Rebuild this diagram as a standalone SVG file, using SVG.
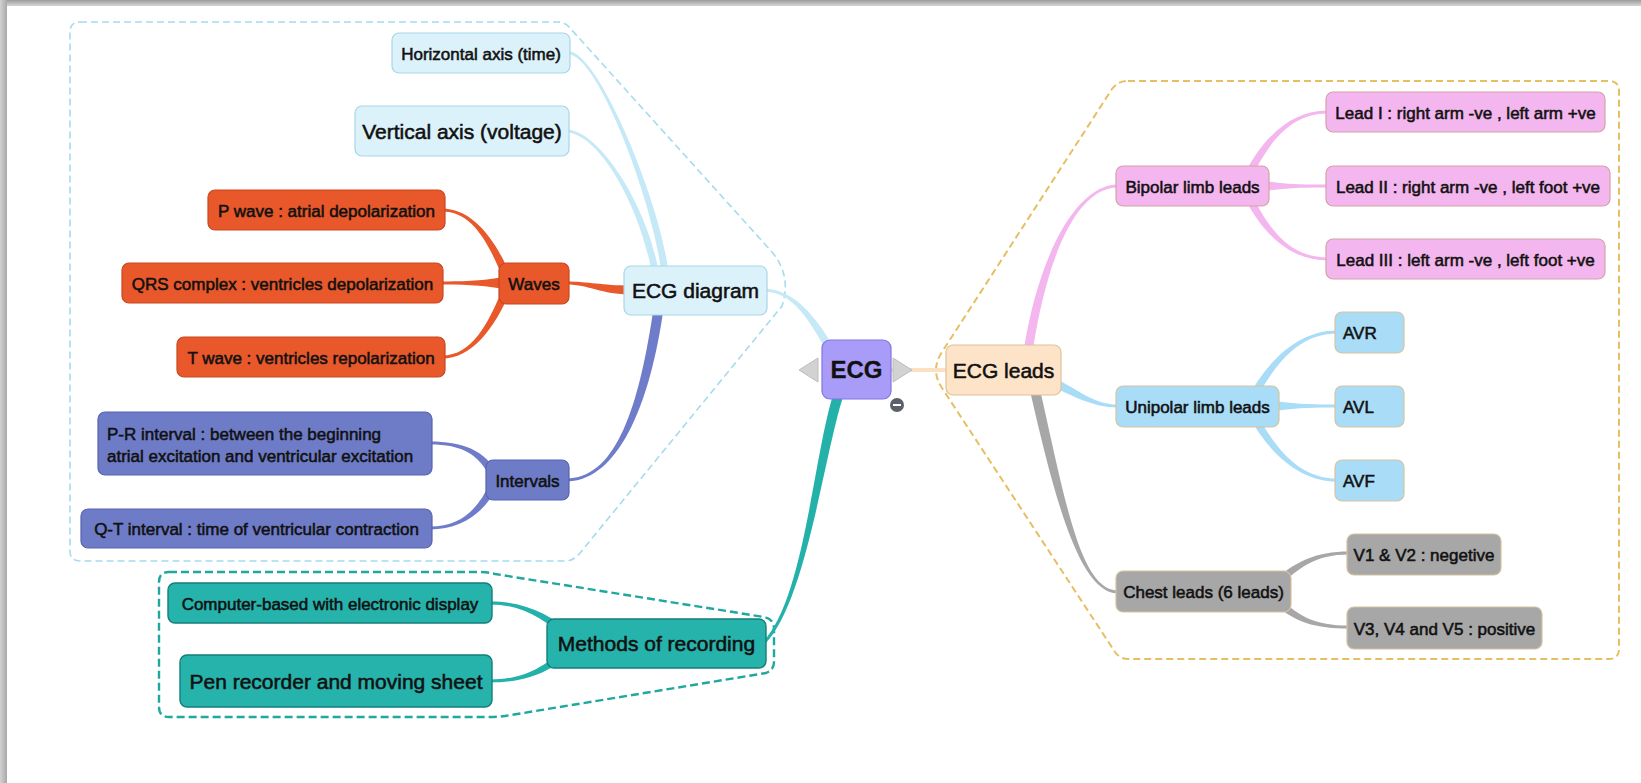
<svg xmlns="http://www.w3.org/2000/svg" width="1641" height="783" viewBox="0 0 1641 783">
<defs>
<linearGradient id="gTop" x1="0" y1="0" x2="0" y2="1"><stop offset="0" stop-color="#9c9c9c"/><stop offset="1" stop-color="#d6d6d6"/></linearGradient>
<linearGradient id="gLeft" x1="0" y1="0" x2="1" y2="0"><stop offset="0" stop-color="#d2d2d2"/><stop offset="1" stop-color="#a8a8a8"/></linearGradient>
<style>
text{font-family:"Liberation Sans",Arial,Helvetica,sans-serif;fill:#111111;stroke:#111111;stroke-width:0.55px}
.s{font-size:17px;text-anchor:middle}
.sl{font-size:17px;text-anchor:start}
.m{font-size:21px;text-anchor:middle}
.b{font-size:24px;font-weight:bold;text-anchor:middle;stroke-width:0.3px}
.lb{fill:#dcf2fa;stroke:#a6d6e8;stroke-width:1.2}
.or{fill:#e8582a;stroke:#c94620;stroke-width:1.2}
.in{fill:#6e7cc8;stroke:#5763b0;stroke-width:1.2}
.te{fill:#26b3ab;stroke:#137f79;stroke-width:1.4}
.ec{fill:#a99cf9;stroke:#8174e3;stroke-width:1.2}
.pe{fill:#fde4c9;stroke:#e0c29c;stroke-width:1.2}
.pk{fill:#f4b6ee;stroke:#d6a2a6;stroke-width:1.2}
.bl{fill:#a8dcf7;stroke:#d6c49f;stroke-width:1.2}
.gr{fill:#a7a7a7;stroke:#d4c19d;stroke-width:1.2}
.dash{fill:none}
</style>
</defs>
<rect x="0" y="0" width="1641" height="783" fill="#ffffff"/>
<rect x="0" y="0" width="1641" height="6" fill="url(#gTop)"/>
<rect x="0" y="0" width="7" height="783" fill="url(#gLeft)"/>

<g id="groups">
<path class="dash" d="M 80,22 L 558,22 Q 565,22 570,28 L 772,252 Q 792,276 782,306 L 580,553 Q 574,561 565,561 L 80,561 Q 70,561 70,551 L 70,32 Q 70,22 80,22 Z" stroke="#a5dbee" stroke-width="1.6" stroke-dasharray="7 4"/>
<path class="dash" d="M 169,572 L 480,572 Q 488,572 495,574 L 764,617 Q 774,619 774,629 L 774,662 Q 774,670 766,673 L 505,716 Q 498,717 490,717 L 169,717 Q 159,717 159,707 L 159,582 Q 159,572 169,572 Z" stroke="#1ea89e" stroke-width="2.4" stroke-dasharray="8 4"/>
<path class="dash" d="M 1128,81 L 1609,81 Q 1619,81 1619,91 L 1619,649 Q 1619,659 1609,659 L 1128,659 Q 1120,659 1115,652 L 942,388 Q 930,370 942,352 L 1112,89 Q 1118,81 1128,81 Z" stroke="#e6bf62" stroke-width="2" stroke-dasharray="7 4"/>
</g>

<g id="connectors">
<path fill="#c6e9f7" d="M 667.5,265.5 C 658.5,199.5 600.2,56.5 570.2,51.5 L 569.8,54.5 C 599.8,59.5 651.5,200.5 660.5,266.5 Z"/>
<path fill="#c6e9f7" d="M 657.4,265.3 C 645.4,204.3 600.1,131.5 567.1,129.5 L 566.9,132.5 C 599.9,134.5 638.6,205.7 650.6,266.7 Z"/>
<path fill="#c6e9f7" d="M 835.5,350 C 815.5,316 795.1,290.5 765.1,288.5 L 764.9,291.5 C 794.9,293.5 808.6,320 828.6,354 Z"/>
<path fill="#e8582a" d="M 632,285.5 C 600,285.5 590,281.5 566,281.5 L 566,284.5 C 590,284.5 600,294.5 632,294.5 Z"/>
<path fill="#6f7cc9" d="M 653.05,311.27 C 637.05,419.27 612,478.5 566,478.5 L 566,481.5 C 612,481.5 646.95,420.73 662.95,312.73 Z"/>
<path fill="#e8582a" d="M 511.7,278.5 C 495.7,238.5 472,208.5 442,208.5 L 442,211.5 C 472,211.5 488.3,241.5 504.3,281.5 Z"/>
<path fill="#e8582a" d="M 505,277 C 480,281 460,281.5 440,281.5 L 440,284.5 C 460,284.5 480,285 505,289 Z"/>
<path fill="#e8582a" d="M 504.3,284.5 C 488.3,324.5 472,355.5 442,355.5 L 442,358.5 C 472,358.5 495.7,327.5 511.7,287.5 Z"/>
<path fill="#6f7cc9" d="M 497.6,474.2 C 485.6,450.2 462,441.5 430,441.5 L 430,444.5 C 462,444.5 478.4,453.8 490.4,477.8 Z"/>
<path fill="#6f7cc9" d="M 490.4,482.3 C 478.4,508.3 462,526.5 430,526.5 L 430,529.5 C 462,529.5 485.6,511.7 497.6,485.7 Z"/>
<path fill="#23b1aa" d="M 833.2,394.5 C 813.2,458.5 803.9,599 762.9,642 L 765.1,644 C 806.1,601 822.8,461.5 842.8,397.5 Z"/>
<path fill="#23b1aa" d="M 577.6,636.9 C 547.6,611.9 522,601.5 490,601.5 L 490,604.5 C 522,604.5 542.4,618.1 572.4,643.1 Z"/>
<path fill="#23b1aa" d="M 572.4,643 C 542.4,669 522,679.5 490,679.5 L 490,682.5 C 522,682.5 547.6,675 577.6,649 Z"/>
<path fill="#fce0c2" d="M 891,368 L 947,368 L 947,372 L 891,372 Z"/>
<path fill="#f4b6ee" d="M 1032.4,352.7 C 1046.4,260.7 1075,187.5 1118,187.5 L 1118,184.5 C 1075,184.5 1037.6,259.3 1023.6,351.3 Z"/>
<path fill="#a8dcf7" d="M 1043.1,382.1 C 1073.1,396.1 1092,407.5 1118,407.5 L 1118,404.5 C 1092,404.5 1076.9,387.9 1046.9,373.9 Z"/>
<path fill="#a7a7a7" d="M 1030.1,391.1 C 1055.1,501.1 1080,593.5 1118,593.5 L 1118,590.5 C 1080,590.5 1064.9,498.9 1039.9,388.9 Z"/>
<path fill="#f4b6ee" d="M 1248.6,183.7 C 1268.6,141.7 1290,113.5 1328,113.5 L 1328,110.5 C 1290,110.5 1261.4,138.3 1241.4,180.3 Z"/>
<path fill="#f4b6ee" d="M 1265,181 C 1290,184.5 1305,184.5 1328,184.5 L 1328,187.5 C 1305,187.5 1290,187.5 1265,191 Z"/>
<path fill="#f4b6ee" d="M 1241.4,191.7 C 1261.4,233.7 1290,260.5 1328,260.5 L 1328,257.5 C 1290,257.5 1268.6,230.3 1248.6,188.3 Z"/>
<path fill="#a8dcf7" d="M 1253.5,403.9 C 1275.5,361.9 1300,333.5 1337,333.5 L 1337,330.5 C 1300,330.5 1268.5,358.1 1246.5,400.1 Z"/>
<path fill="#a8dcf7" d="M 1275,401 C 1300,404.5 1315,404.5 1337,404.5 L 1337,407.5 C 1315,407.5 1300,407.5 1275,411 Z"/>
<path fill="#a8dcf7" d="M 1246.5,411.9 C 1268.5,453.9 1300,481.5 1337,481.5 L 1337,478.5 C 1300,478.5 1275.5,450.1 1253.5,408.1 Z"/>
<path fill="#a7a7a7" d="M 1272.8,592.8 C 1297.8,567.8 1315,554.5 1349,554.5 L 1349,551.5 C 1315,551.5 1292.2,562.2 1267.2,587.2 Z"/>
<path fill="#a7a7a7" d="M 1267.1,596.8 C 1292.1,622.8 1315,628.5 1349,628.5 L 1349,625.5 C 1315,625.5 1297.9,617.2 1272.9,591.2 Z"/>
</g>

<g id="n-ha"><rect class="lb" x="392" y="33" width="178" height="40" rx="7"/><text class="s" x="481" y="59.5">Horizontal axis (time)</text></g>
<g id="n-va"><rect class="lb" x="355" y="106" width="214" height="50" rx="7"/><text class="m" x="462" y="138.5">Vertical axis (voltage)</text></g>
<g id="n-pw"><rect class="or" x="208" y="190" width="237" height="40" rx="7"/><text class="s" x="326.5" y="216.5">P wave : atrial depolarization</text></g>
<g id="n-qrs"><rect class="or" x="122" y="263" width="321" height="40" rx="7"/><text class="s" x="282.5" y="289.5">QRS complex : ventricles depolarization</text></g>
<g id="n-tw"><rect class="or" x="177" y="337" width="268" height="40" rx="7"/><text class="s" x="311" y="363.5">T wave : ventricles repolarization</text></g>
<g id="n-waves"><rect class="or" x="499" y="263" width="70" height="41" rx="7"/><text class="s" x="534" y="290">Waves</text></g>
<g id="n-ecgd"><rect class="lb" x="624" y="266" width="143" height="49" rx="7"/><text class="m" x="695.5" y="298">ECG diagram</text></g>
<g id="n-pr"><rect class="in" x="98" y="412" width="334" height="63" rx="7"/><text class="sl" x="107" y="440">P-R interval : between the beginning</text><text class="sl" x="107" y="462">atrial excitation and ventricular excitation</text></g>
<g id="n-qt"><rect class="in" x="81" y="509" width="351" height="39" rx="7"/><text class="s" x="256.5" y="535">Q-T interval : time of ventricular contraction</text></g>
<g id="n-int"><rect class="in" x="486" y="460" width="83" height="40" rx="7"/><text class="s" x="527.5" y="486.5">Intervals</text></g>
<g id="n-cb"><rect class="te" x="168" y="583" width="324" height="40" rx="7"/><text class="s" x="330" y="609.5">Computer-based with electronic display</text></g>
<g id="n-pen"><rect class="te" x="180" y="655" width="312" height="52" rx="7"/><text class="m" x="336" y="688.5">Pen recorder and moving sheet</text></g>
<g id="n-mr"><rect class="te" x="547" y="619" width="219" height="49" rx="7"/><text class="m" x="656.5" y="651">Methods of recording</text></g>
<g id="n-ecg"><polygon points="818,358 818,382 799,370" fill="#d2d2d2" stroke="#bdbdbd" stroke-width="1"/><polygon points="893,358 893,382 912,370" fill="#d2d2d2" stroke="#bdbdbd" stroke-width="1"/><rect class="ec" x="822" y="340" width="69" height="59" rx="8"/><text class="b" x="856.5" y="378">ECG</text><circle cx="897" cy="405" r="7" fill="#5b6168"/><line x1="893" y1="405" x2="901" y2="405" stroke="#ffffff" stroke-width="2"/></g>
<g id="n-el"><rect class="pe" x="946" y="345" width="115" height="50" rx="7"/><text class="m" x="1003.5" y="377.5">ECG leads</text></g>
<g id="n-bp"><rect class="pk" x="1116" y="166" width="153" height="40" rx="7"/><text class="s" x="1192.5" y="192.5">Bipolar limb leads</text></g>
<g id="n-l1"><rect class="pk" x="1326" y="92" width="279" height="40" rx="7"/><text class="s" x="1465.5" y="118.5">Lead I : right arm -ve , left arm +ve</text></g>
<g id="n-l2"><rect class="pk" x="1326" y="166" width="284" height="40" rx="7"/><text class="s" x="1468" y="192.5">Lead II : right arm -ve , left foot +ve</text></g>
<g id="n-l3"><rect class="pk" x="1326" y="239" width="279" height="40" rx="7"/><text class="s" x="1465.5" y="265.5">Lead III : left arm -ve , left foot +ve</text></g>
<g id="n-up"><rect class="bl" x="1116" y="386" width="163" height="41" rx="7"/><text class="s" x="1197.5" y="413">Unipolar limb leads</text></g>
<g id="n-avr"><rect class="bl" x="1335" y="312" width="69" height="41" rx="7"/><text class="sl" x="1343" y="339">AVR</text></g>
<g id="n-avl"><rect class="bl" x="1335" y="386" width="69" height="41" rx="7"/><text class="sl" x="1343" y="413">AVL</text></g>
<g id="n-avf"><rect class="bl" x="1335" y="460" width="69" height="41" rx="7"/><text class="sl" x="1343" y="487">AVF</text></g>
<g id="n-ch"><rect class="gr" x="1116" y="571" width="175" height="41" rx="7"/><text class="s" x="1203.5" y="598">Chest leads (6 leads)</text></g>
<g id="n-v12"><rect class="gr" x="1347" y="534" width="154" height="41" rx="7"/><text class="s" x="1424" y="561">V1 &amp; V2 : negetive</text></g>
<g id="n-v345"><rect class="gr" x="1347" y="607" width="195" height="42" rx="7"/><text class="s" x="1444.5" y="634.5">V3, V4 and V5 : positive</text></g>
</svg>
